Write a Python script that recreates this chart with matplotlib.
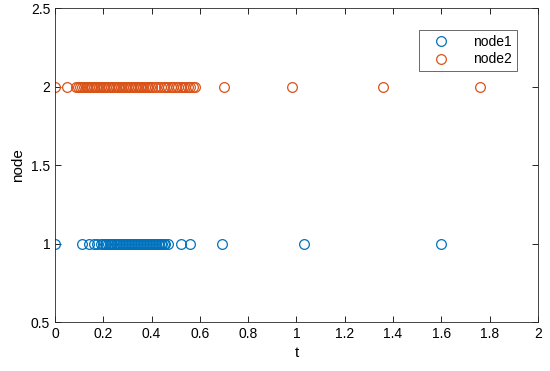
import matplotlib.pyplot as plt

plt.rcParams['font.family'] = ['Liberation Sans', 'DejaVu Sans']

# event times
t_node1 = [0.0, 0.11, 0.14, 0.16, 0.175, 0.19, 0.20, 0.207, 0.213, 0.22,
           0.226, 0.232, 0.238, 0.245, 0.251, 0.257, 0.263, 0.27, 0.276,
           0.282, 0.288, 0.295, 0.301, 0.307, 0.313, 0.32, 0.326, 0.332,
           0.338, 0.345, 0.351, 0.357, 0.363, 0.37, 0.376, 0.382, 0.388,
           0.395, 0.401, 0.407, 0.413, 0.42, 0.426, 0.432, 0.438, 0.445,
           0.451, 0.457, 0.47, 0.52, 0.56, 0.69, 1.03, 1.60]
t_node2 = [0.0, 0.05, 0.085, 0.095, 0.105, 0.112, 0.12, 0.127, 0.134,
           0.141, 0.148, 0.155, 0.162, 0.169, 0.176, 0.183, 0.19, 0.197,
           0.204, 0.211, 0.218, 0.225, 0.232, 0.239, 0.246, 0.253, 0.26,
           0.267, 0.274, 0.281, 0.288, 0.295, 0.302, 0.309, 0.316, 0.323,
           0.33, 0.337, 0.344, 0.351, 0.358, 0.365, 0.372, 0.379, 0.386,
           0.393, 0.40, 0.415, 0.425, 0.44, 0.45, 0.46, 0.47, 0.48, 0.49,
           0.50, 0.51, 0.52, 0.53, 0.54, 0.55, 0.56, 0.57, 0.58, 0.70,
           0.98, 1.36, 1.76]
node1_val = 1
node2_val = 2

fig = plt.figure(figsize=(5.5, 3.71), dpi=100)
ax = fig.add_axes([0.1, 0.132, 0.878, 0.846])

ax.plot(t_node1, [node1_val] * len(t_node1), 'o', mfc='none', mec='#0072BD',
        ms=7, mew=0.9, label='node1')
ax.plot(t_node2, [node2_val] * len(t_node2), 'o', mfc='none', mec='#D95319',
        ms=7, mew=0.9, label='node2')

ax.set_xlim(0, 2)
ax.set_ylim(0.5, 2.5)
ax.set_xticks([0, 0.2, 0.4, 0.6, 0.8, 1, 1.2, 1.4, 1.6, 1.8, 2])
ax.set_xticklabels(['0', '0.2', '0.4', '0.6', '0.8', '1', '1.2', '1.4', '1.6', '1.8', '2'])
ax.set_yticks([0.5, 1, 1.5, 2, 2.5])
ax.set_yticklabels(['0.5', '1', '1.5', '2', '2.5'])
ax.tick_params(direction='in', top=True, right=True, labelsize=10, length=4, width=0.6)
for s in ax.spines.values():
    s.set_linewidth(0.6)
    s.set_color('#262626')

ax.set_xlabel('t', fontsize=11)
ax.set_ylabel('node', fontsize=11)

leg = ax.legend(loc='upper right', bbox_to_anchor=(0.957, 0.93), fancybox=False,
                edgecolor='#262626', fontsize=10, handletextpad=1.0,
                handlelength=2.6, borderpad=0.35, labelspacing=0.25,
                borderaxespad=0)
leg.get_frame().set_linewidth(0.6)

fig.savefig('out.png', dpi=100)
